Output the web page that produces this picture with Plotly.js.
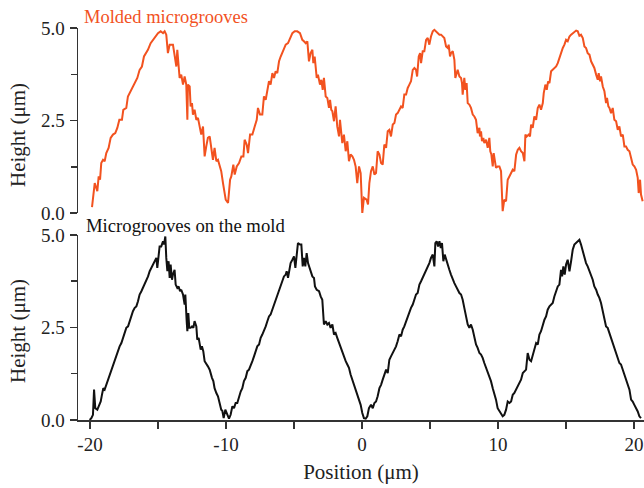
<!DOCTYPE html>
<html>
<head>
<meta charset="utf-8">
<script src="https://cdn.plot.ly/plotly-3.0.1.min.js"></script>
<style>html,body{margin:0;padding:0;background:#fff;}#chart{width:644px;height:488px;}</style>
</head>
<body>
<div id="chart"></div>
<script>
// Molded microgrooves (top panel) — position (µm), height (µm)
var moldedX = [-19.85,-19.65,-19.46,-19.36,-19.26,-19.17,-19.04,-18.92,-18.80,-18.63,-18.48,-18.31,-18.14,-17.99,-17.84,-17.65,-17.55,-17.33,-17.21,-17.01,-16.84,-16.67,-16.52,-16.35,-16.18,-16.03,-15.86,-15.74,-15.54,-15.37,-15.20,-15.00,-14.80,-14.63,-14.51,-14.39,-14.27,-14.14,-13.90,-13.78,-13.65,-13.58,-13.48,-13.41,-13.29,-13.16,-13.04,-12.92,-12.84,-12.80,-12.67,-12.60,-12.50,-12.43,-12.31,-12.18,-12.06,-11.94,-11.82,-11.69,-11.57,-11.45,-11.33,-11.20,-11.08,-10.96,-10.84,-10.71,-10.59,-10.47,-10.35,-10.22,
-10.02,-9.85,-9.70,-9.61,-9.46,-9.36,-9.21,-9.04,-8.87,-8.72,-8.63,-8.48,-8.38,-8.23,-8.06,-7.89,-7.74,-7.65,-7.50,-7.33,-7.21,-7.08,-6.96,-6.84,-6.72,-6.59,-6.47,-6.35,-6.23,-6.10,-5.98,-5.78,-5.61,-5.44,-5.30,-5.12,-4.95,-4.76,-4.56,-4.39,-4.27,-4.14,-4.02,-3.90,-3.78,-3.65,-3.58,-3.48,-3.33,-3.24,-3.09,-2.99,-2.89,-2.80,-2.67,-2.55,-2.43,-2.35,-2.26,-2.18,-2.06,-1.94,-1.82,-1.69,-1.62,-1.52,-1.45,-1.33,-1.20,-1.08,-0.96,-0.84,-0.71,-0.59,-0.47,-0.35,-0.22,-0.10,0.02,0.14,0.34,0.44,
0.54,0.66,0.79,0.91,1.03,1.15,1.28,1.40,1.52,1.64,1.77,1.89,2.01,2.13,2.26,2.38,2.50,2.62,2.75,2.87,2.99,3.11,3.24,3.36,3.48,3.60,3.73,3.85,3.97,4.05,4.17,4.27,4.34,4.46,4.58,4.71,4.83,4.95,5.07,5.20,5.32,5.44,5.56,5.69,5.81,5.93,6.05,6.18,6.30,6.37,6.47,6.54,6.67,6.79,6.86,6.96,7.03,7.16,7.28,7.35,7.40,7.52,7.60,7.69,7.77,7.89,8.01,8.14,8.26,8.38,8.50,8.63,8.67,8.75,8.82,8.92,8.99,9.12,9.24,9.36,9.43,9.51,9.61,9.68,9.78,9.85,9.97,10.10,10.22,10.34,10.46,10.59,10.71,
10.84,10.96,11.08,11.20,11.33,11.45,11.57,11.69,11.82,11.94,12.01,12.11,12.26,12.35,12.43,12.55,12.67,12.80,12.92,13.04,13.16,13.29,13.36,13.48,13.58,13.68,13.78,13.90,14.02,14.14,14.27,14.39,14.51,14.63,14.76,14.88,15.00,15.12,15.25,15.37,15.49,15.61,15.74,15.86,15.98,16.10,16.23,16.35,16.47,16.59,16.72,16.84,16.96,17.08,17.21,17.33,17.40,17.50,17.57,17.70,17.82,17.94,18.01,18.11,18.19,18.31,18.43,18.55,18.68,18.80,18.92,19.04,19.17,19.29,19.41,19.53,19.66,19.78,19.90,20.02,20.15,20.27,20.34,20.44,20.51,20.63];
var moldedY = [0.16,0.81,0.59,0.99,0.90,1.35,1.44,1.40,1.62,1.76,2.03,2.12,2.16,2.30,2.52,2.52,2.79,2.84,3.15,3.29,3.42,3.51,3.65,3.87,3.96,4.23,4.32,4.41,4.59,4.68,4.77,4.86,4.91,4.86,4.91,4.82,4.32,4.55,4.55,4.23,3.96,4.41,3.87,3.65,3.74,3.47,3.69,3.47,2.52,3.47,3.42,2.88,2.97,2.66,2.79,2.52,2.57,2.34,2.12,2.34,1.53,1.80,2.03,2.07,1.80,1.44,1.76,1.40,1.44,1.26,1.13,0.81,
0.36,0.27,0.90,0.99,1.31,1.04,1.26,1.35,1.53,1.53,1.98,1.85,1.62,2.12,2.12,2.34,2.52,2.84,2.66,2.66,3.15,3.06,3.29,3.56,3.47,3.78,3.65,3.83,3.78,4.10,4.23,4.41,4.55,4.59,4.73,4.86,4.91,4.91,4.86,4.68,4.64,4.59,4.64,4.10,4.32,4.41,4.05,4.23,3.65,3.74,3.47,3.60,3.33,3.65,3.15,3.11,2.84,3.06,2.79,2.75,2.48,2.88,2.34,2.07,2.52,2.03,1.89,2.12,1.67,1.94,1.40,1.58,1.53,1.44,1.26,0.81,1.26,1.08,0.00,0.41,0.36,0.23,
0.81,1.13,1.26,1.04,1.08,1.67,1.58,1.35,1.31,1.85,1.76,2.21,2.25,2.07,2.39,2.43,2.66,2.70,2.79,2.88,2.84,3.20,3.20,3.38,3.47,3.56,3.87,3.92,3.87,3.69,4.23,4.32,4.05,4.37,4.37,4.68,4.73,4.55,4.77,4.91,4.95,4.91,4.86,4.82,4.82,4.77,4.73,4.50,4.46,4.55,4.23,4.32,4.37,4.14,3.65,3.78,3.87,3.69,3.65,3.51,3.20,3.65,3.33,3.51,2.97,2.93,2.84,2.66,2.61,2.52,2.16,2.30,2.07,2.21,1.94,2.03,1.89,1.98,1.76,2.03,1.67,1.58,1.26,1.62,1.44,1.22,1.26,1.26,1.13,0.05,0.36,0.32,0.90,
0.99,1.08,1.17,1.13,1.58,1.71,1.76,1.67,1.62,1.40,2.12,2.07,2.12,2.07,2.39,2.30,2.61,2.52,2.84,2.93,2.79,2.97,3.24,3.47,3.33,3.56,3.51,3.83,3.87,3.92,3.96,4.05,4.19,4.32,4.46,4.55,4.68,4.64,4.77,4.82,4.86,4.88,4.93,4.91,4.79,4.82,4.73,4.50,4.46,4.32,4.28,4.10,4.01,3.92,3.74,3.60,3.78,3.56,3.69,3.42,3.29,2.97,3.11,2.88,2.84,2.70,2.84,2.52,2.48,2.25,2.34,2.07,2.12,1.80,1.80,1.71,1.67,1.44,1.31,1.26,1.17,0.95,0.54,0.90,0.50,0.32];

// Microgrooves on the mold (bottom panel)
var moldX = [-20.02,-19.90,-19.78,-19.70,-19.61,-19.46,-19.36,-19.21,-19.12,-19.02,-18.92,-18.80,-18.67,-18.55,-18.43,-18.31,-18.18,-18.06,-17.94,-17.82,-17.69,-17.57,-17.45,-17.33,-17.20,-17.08,-16.96,-16.84,-16.71,-16.59,-16.47,-16.35,-16.22,-16.10,-15.98,-15.86,-15.73,-15.61,-15.49,-15.37,-15.24,-15.12,-15.05,-14.95,-14.88,-14.76,-14.63,-14.56,-14.46,-14.39,-14.31,-14.22,-14.14,-14.07,-13.97,-13.90,-13.78,-13.70,-13.58,-13.48,-13.38,-13.29,-13.16,-13.04,-12.99,-12.89,-12.84,-12.77,-12.70,-12.60,-12.50,-12.40,-12.31,-12.18,-12.11,-12.01,-11.94,-11.86,-11.77,-11.67,-11.57,-11.45,-11.33,-11.20,-11.13,-11.03,-10.93,-10.84,-10.71,-10.59,-10.47,-10.35,-10.27,-10.17,-10.05,
-9.95,-9.78,-9.66,-9.53,-9.41,-9.29,-9.17,-9.04,-8.92,-8.80,-8.68,-8.55,-8.43,-8.31,-8.19,-8.06,-7.94,-7.82,-7.70,-7.57,-7.45,-7.33,-7.21,-7.08,-6.96,-6.84,-6.72,-6.59,-6.47,-6.35,-6.23,-6.10,-5.98,-5.86,-5.74,-5.61,-5.54,-5.44,-5.34,-5.25,-5.12,-5.00,-4.90,-4.80,-4.71,-4.56,-4.46,-4.36,-4.27,-4.17,-4.07,-3.97,-3.87,-3.78,-3.65,-3.53,-3.46,-3.33,-3.16,-3.04,-2.92,-2.80,-2.67,-2.55,-2.43,-2.31,-2.18,-2.06,-1.94,-1.82,-1.69,-1.57,-1.45,-1.33,-1.20,-1.08,-0.96,-0.84,-0.71,-0.59,-0.47,-0.35,-0.22,-0.10,0.02,0.14,0.27,0.39,0.51,
0.66,0.79,0.91,1.03,1.15,1.28,1.40,1.52,1.64,1.77,1.89,2.01,2.13,2.26,2.38,2.50,2.62,2.75,2.87,2.99,3.11,3.24,3.36,3.48,3.60,3.73,3.85,3.97,4.09,4.22,4.34,4.46,4.58,4.71,4.83,4.95,5.07,5.20,5.32,5.39,5.49,5.59,5.69,5.79,5.88,5.98,6.08,6.18,6.30,6.42,6.54,6.67,6.79,6.91,7.03,7.16,7.28,7.40,7.52,7.65,7.77,7.89,8.01,8.14,8.26,8.38,8.50,8.63,8.75,8.87,8.99,9.12,9.24,9.36,9.48,9.61,9.73,9.85,9.97,10.10,10.22,10.34,10.46,10.59,10.71,
10.84,10.96,11.08,11.20,11.33,11.45,11.57,11.69,11.82,11.94,12.06,12.18,12.31,12.43,12.55,12.67,12.80,12.92,13.04,13.16,13.29,13.41,13.53,13.65,13.78,13.90,14.02,14.14,14.27,14.39,14.51,14.63,14.71,14.80,14.90,15.00,15.12,15.25,15.37,15.49,15.61,15.74,15.86,15.98,16.10,16.23,16.35,16.47,16.59,16.72,16.84,16.96,17.08,17.21,17.33,17.45,17.57,17.70,17.82,17.94,18.06,18.19,18.31,18.43,18.55,18.68,18.80,18.92,19.04,19.17,19.29,19.41,19.53,19.66,19.78,19.90,20.02,20.15,20.27,20.39,20.51];
var moldY = [0.00,0.05,0.14,0.82,0.32,0.28,0.37,0.50,0.68,0.86,0.82,0.95,1.09,1.23,1.36,1.45,1.63,1.72,1.86,1.99,2.08,2.22,2.35,2.49,2.53,2.67,2.76,2.94,3.03,3.07,3.21,3.39,3.48,3.57,3.70,3.79,3.88,4.02,4.11,4.20,4.29,4.38,4.11,4.56,4.69,4.69,4.83,4.74,4.96,4.38,4.02,4.29,3.84,4.20,3.79,3.93,4.06,3.66,3.57,3.61,3.48,3.52,3.39,3.12,3.39,2.67,2.40,2.89,2.49,2.49,2.53,2.49,2.67,2.53,2.17,2.22,2.04,1.90,1.99,1.86,1.59,1.50,1.45,1.36,1.23,1.14,1.05,0.86,0.73,0.64,0.46,0.28,0.25,0.05,0.28,
0.19,0.04,0.14,0.37,0.32,0.46,0.46,0.64,0.77,0.86,1.05,1.14,1.32,1.36,1.50,1.59,1.72,1.86,1.99,2.04,2.22,2.31,2.40,2.53,2.67,2.80,2.85,2.98,3.12,3.25,3.39,3.48,3.61,3.75,3.88,3.93,4.02,3.84,4.06,4.24,4.33,4.42,4.11,4.51,4.78,4.74,4.74,4.15,4.38,4.15,4.51,4.24,4.11,4.02,3.88,3.84,3.61,3.52,3.48,3.34,3.25,2.58,2.67,2.58,2.62,2.49,2.58,2.31,2.35,2.22,2.08,1.95,1.81,1.72,1.59,1.50,1.41,1.23,1.09,1.00,0.86,0.73,0.59,0.41,0.19,0.05,0.04,0.10,0.32,
0.41,0.32,0.46,0.50,0.64,0.86,0.95,1.09,1.23,1.36,1.27,1.63,1.72,1.81,1.90,1.99,2.13,2.31,2.26,2.44,2.53,2.67,2.80,2.89,3.03,3.12,3.25,3.39,3.43,3.66,3.75,3.84,3.93,4.06,4.11,4.24,4.38,4.47,4.15,4.78,4.83,4.69,4.83,4.65,4.78,4.29,4.47,4.33,4.20,4.06,3.93,3.79,3.70,3.61,3.52,3.43,3.39,3.25,3.03,2.76,2.58,2.49,2.58,2.44,2.22,2.04,1.95,1.81,1.77,1.68,1.54,1.41,1.32,1.18,1.05,0.86,0.73,0.55,0.32,0.23,0.14,0.10,0.14,0.28,0.50,
0.46,0.50,0.68,0.73,0.82,0.91,1.00,1.09,1.27,1.32,1.36,1.81,1.63,1.59,1.77,1.95,2.08,2.04,2.31,2.40,2.58,2.71,2.80,2.98,3.07,3.12,3.16,3.34,3.48,3.61,3.66,4.06,3.88,4.15,3.93,4.20,4.33,4.02,4.29,4.60,4.74,4.78,4.83,4.87,4.74,4.56,4.42,4.24,4.15,4.02,3.88,3.79,3.61,3.52,3.39,3.30,3.16,2.94,2.76,2.53,2.49,2.35,2.22,2.08,1.95,1.81,1.68,1.54,1.50,1.36,1.18,1.05,0.95,0.82,0.55,0.50,0.41,0.32,0.23,0.10,0.05];

var yTickVals = [0, 2.5, 5];
var yTickText = ['0.0', '2.5', '5.0'];
var xTickVals = [-20, -10, 0, 10, 20];
var xTickText = ['-20', '-10', '0', '10', '20'];
var topLabel = 'Molded microgrooves';
var bottomLabel = 'Microgrooves on the mold';
var yTitle = 'Height (μm)';
var xTitle = 'Position (μm)';

var FONT = '"Liberation Serif", "Times New Roman", serif';
var ORANGE = '#f2521f';
var AX = '#333333';

var traces = [
  {x: moldedX, y: moldedY, xaxis: 'x2', yaxis: 'y2', type: 'scatter', mode: 'lines',
   line: {color: ORANGE, width: 2}, hoverinfo: 'skip'},
  {x: moldX, y: moldY, xaxis: 'x', yaxis: 'y', type: 'scatter', mode: 'lines',
   line: {color: '#111111', width: 2}, hoverinfo: 'skip'}
];

var yCommon = {
  range: [0, 5], tickvals: yTickVals, ticktext: yTickText,
  showline: true, linecolor: AX, linewidth: 1.5,
  ticks: 'outside', ticklen: 7, tickwidth: 1.5, tickcolor: AX,
  minor: {tickvals: [1.25, 3.75], ticks: 'outside', ticklen: 6, tickwidth: 1.5, tickcolor: AX},
  showgrid: false, zeroline: false,
  tickfont: {family: FONT, size: 19, color: '#222'},
  ticklabelstandoff: 1
};

var layout = {
  width: 644, height: 488,
  margin: {l: 78, r: 0, t: 28, b: 68},
  paper_bgcolor: '#fff', plot_bgcolor: '#fff',
  showlegend: false,
  font: {family: FONT, color: '#222'},
  xaxis: {
    anchor: 'y', domain: [0, 1], range: [-20.88, 20.73],
    tickvals: xTickVals, ticktext: xTickText,
    showline: true, linecolor: AX, linewidth: 1.5,
    ticks: 'outside', ticklen: 7, tickwidth: 1.5, tickcolor: AX,
    minor: {tickvals: [-15, -5, 5, 15], ticks: 'outside', ticklen: 7, tickwidth: 1.5, tickcolor: AX},
    showgrid: false, zeroline: false,
    tickfont: {family: FONT, size: 19, color: '#222'},
    title: {text: xTitle, font: {family: FONT, size: 21, color: '#222'}, standoff: 10}
  },
  xaxis2: {
    anchor: 'y2', domain: [0, 1], matches: 'x',
    showline: false, showticklabels: false, ticks: '', showgrid: false, zeroline: false
  },
  yaxis: Object.assign({}, yCommon, {domain: [0, 0.472], anchor: 'x'}),
  yaxis2: Object.assign({}, JSON.parse(JSON.stringify(yCommon)), {domain: [0.528, 1], anchor: 'x2'}),
  annotations: [
    {text: topLabel, xref: 'x2', yref: 'paper', x: -20.6, y: 1.028, xanchor: 'left', yanchor: 'middle',
     showarrow: false, font: {family: FONT, size: 18.5, color: ORANGE}},
    {text: bottomLabel, xref: 'x', yref: 'paper', x: -20.45, y: 0.497, xanchor: 'left', yanchor: 'middle',
     showarrow: false, font: {family: FONT, size: 18.7, color: '#111'}},
    {text: yTitle, xref: 'paper', yref: 'paper', x: -0.106, y: 0.727, xanchor: 'center', yanchor: 'middle',
     textangle: -90, showarrow: false, font: {family: FONT, size: 21, color: '#222'}},
    {text: yTitle, xref: 'paper', yref: 'paper', x: -0.106, y: 0.227, xanchor: 'center', yanchor: 'middle',
     textangle: -90, showarrow: false, font: {family: FONT, size: 21, color: '#222'}}
  ]
};

Plotly.newPlot('chart', traces, layout, {staticPlot: true, displayModeBar: false});
</script>
</body>
</html>
